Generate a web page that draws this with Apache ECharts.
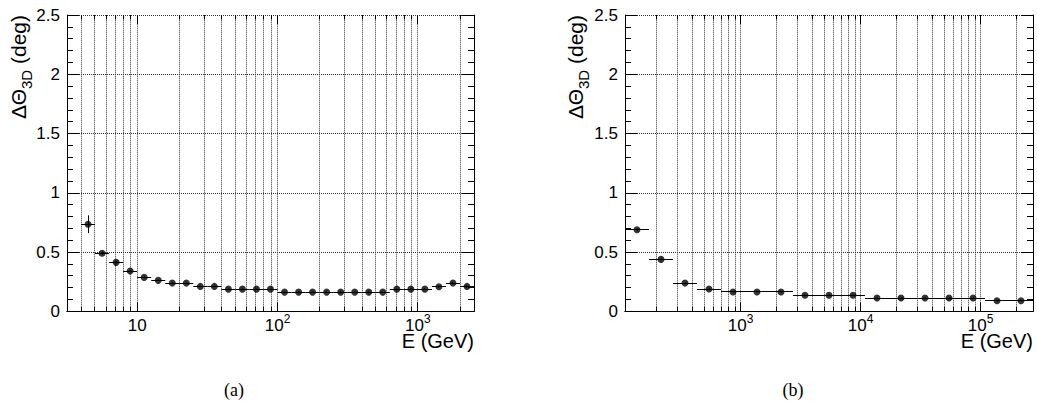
<!DOCTYPE html>
<html><head><meta charset="utf-8">
<script src="https://cdn.jsdelivr.net/npm/echarts@6/dist/echarts.min.js"></script>
<style>html,body{margin:0;padding:0;background:#fff}#c{width:1037px;height:403px}</style>
</head><body><div id="c"></div>
<script>
// ---------- Panel (a) data ----------
const energyA = [4.467, 5.623, 7.079, 8.913, 11.22, 14.13, 17.78, 22.39, 28.18, 35.48, 44.67, 56.23, 70.79, 89.13,
  112.2, 141.3, 177.8, 223.9, 281.8, 354.8, 446.7, 562.3, 707.9, 891.3, 1122, 1413, 1778, 2239];
const binEdgesA = [3.981, 5.012, 6.310, 7.943, 10.0, 12.59, 15.85, 19.95, 25.12, 31.62, 39.81, 50.12, 63.10, 79.43,
  100.0, 125.9, 158.5, 199.5, 251.2, 316.2, 398.1, 501.2, 631.0, 794.3, 1000, 1259, 1585, 1995, 2512];
const thetaA = [0.735, 0.49, 0.413, 0.34, 0.286, 0.261, 0.238, 0.238, 0.21, 0.21, 0.187, 0.187, 0.187, 0.187,
  0.162, 0.162, 0.162, 0.162, 0.162, 0.162, 0.162, 0.162, 0.187, 0.187, 0.187, 0.207, 0.238, 0.21];
const errA = [0.075, 0.012, 0.01, 0.008, 0.006, 0.005, 0.005, 0.005, 0.005, 0.005, 0.005, 0.005, 0.005, 0.005,
  0.005, 0.005, 0.005, 0.005, 0.005, 0.005, 0.005, 0.005, 0.005, 0.005, 0.006, 0.008, 0.01, 0.012];
const xRangeA = [3.162, 2512];

// ---------- Panel (b) data ----------
const energyB = [137.1, 217.3, 344.4, 545.8, 865.0, 1371, 2173, 3443, 5458, 8650, 13710, 21730, 34440, 54580,
  86500, 137100, 217300];
const binEdgesB = [108.9, 172.6, 273.5, 433.5, 687.1, 1089, 1726, 2735, 4335, 6871, 10890, 17260, 27350, 43350,
  68710, 108900, 172600, 273500];
const thetaB = [0.688, 0.438, 0.238, 0.188, 0.163, 0.163, 0.163, 0.135, 0.135, 0.135, 0.112, 0.112, 0.112, 0.112,
  0.112, 0.089, 0.089];
const errB = [0.012, 0.008, 0.006, 0.005, 0.005, 0.005, 0.005, 0.005, 0.005, 0.005, 0.005, 0.005, 0.005, 0.005,
  0.005, 0.006, 0.006];
const xRangeB = [108.9, 273500];

const yRange = [0, 2.5];
const yTitle = ['\u0394\u0398', '3D', ' (deg)'];
const xTitle = 'E (GeV)';
const captions = ['(a)', '(b)'];

// ---------- helpers ----------
const FONT = 'Liberation Sans, Arial, Helvetica, sans-serif';
function logTicks(r) {
  const out = [];
  for (let d = Math.floor(Math.log10(r[0])); d <= Math.ceil(Math.log10(r[1])); d++) {
    for (let m = 1; m <= 9; m++) {
      const v = m * Math.pow(10, d);
      if (v > r[0] * 1.0001 && v < r[1] * 0.9999) out.push([v, m === 1 ? 1 : 0]);
    }
  }
  return out;
}
function errData(E, edges, T, err) {
  return E.map((e, i) => [e, T[i], edges[i], edges[i + 1], err[i]]);
}
const crisp = v => Math.round(v - 0.5) + 0.5;

function gridSeries(xi, yi, range) {
  return {
    type: 'custom', xAxisIndex: xi, yAxisIndex: yi, silent: true, z: 1,
    data: logTicks(range),
    encode: { x: 0 },
    renderItem(params, api) {
      const v = api.value(0), major = api.value(1);
      const pb = api.coord([v, yRange[0]]), pt = api.coord([v, yRange[1]]);
      const x = crisp(pb[0]);
      const len = major ? 9 : 4.5;
      return { type: 'group', children: [
        { type: 'line', shape: { x1: x, y1: pb[1], x2: x, y2: pt[1] },
          style: { stroke: '#333', lineWidth: 1, lineDash: [1, 1] } },
        { type: 'line', shape: { x1: x, y1: pb[1], x2: x, y2: pb[1] - len },
          style: { stroke: '#000', lineWidth: 1 } },
        { type: 'line', shape: { x1: x, y1: pt[1], x2: x, y2: pt[1] + len },
          style: { stroke: '#000', lineWidth: 1 } }
      ] };
    }
  };
}
function errSeries(xi, yi, data) {
  return {
    type: 'custom', xAxisIndex: xi, yAxisIndex: yi, silent: true, z: 5,
    data, encode: { x: 0, y: 1 },
    renderItem(params, api) {
      const x = api.value(0), y = api.value(1), lo = api.value(2), hi = api.value(3), e = api.value(4);
      const pl = api.coord([lo, y]), ph = api.coord([hi, y]);
      const pt = api.coord([x, y + e]), pb = api.coord([x, y - e]);
      const yy = crisp(pl[1]), xx = crisp(pt[0]);
      return { type: 'group', children: [
        { type: 'line', shape: { x1: pl[0], y1: yy, x2: ph[0], y2: yy }, style: { stroke: '#000', lineWidth: 1 } },
        { type: 'line', shape: { x1: xx, y1: pt[1], x2: xx, y2: pb[1] }, style: { stroke: '#000', lineWidth: 1 } }
      ] };
    }
  };
}
function pointSeries(xi, yi, E, T) {
  return {
    type: 'scatter', xAxisIndex: xi, yAxisIndex: yi, z: 6, silent: true,
    symbol: 'circle', symbolSize: 7, itemStyle: { color: '#000' },
    data: E.map((e, i) => [e, T[i]])
  };
}
function xLabelFmt(v) {
  const l = Math.log10(v), n = Math.round(l);
  if (Math.abs(l - n) > 1e-6) return '';
  return n === 1 ? '{b|10}' : '{b|10}{s|' + n + '}';
}
const axisLineStyle = { show: true, lineStyle: { color: '#000', width: 1 } };
function xAxes(gi, range) {
  const common = { gridIndex: gi, type: 'log', logBase: 10, min: range[0], max: range[1],
    axisLine: axisLineStyle, axisTick: { show: false }, splitLine: { show: false }, minorTick: { show: false } };
  return [
    Object.assign({}, common, { position: 'bottom',
      axisLabel: { show: true, margin: 2, color: '#000', formatter: xLabelFmt,
        rich: { b: { fontFamily: FONT, fontSize: 17, lineHeight: 21, verticalAlign: 'bottom', color: '#000' },
                s: { fontFamily: FONT, fontSize: 12, lineHeight: 12, verticalAlign: 'top', color: '#000' } } } }),
    Object.assign({}, common, { position: 'top', axisLabel: { show: false } })
  ];
}
function yAxes(gi) {
  const common = { gridIndex: gi, type: 'value', min: yRange[0], max: yRange[1], interval: 0.5,
    axisLine: axisLineStyle,
    axisTick: { show: true, inside: true, length: 12, lineStyle: { color: '#000', width: 1 } },
    minorTick: { show: true, splitNumber: 5, length: 6, lineStyle: { color: '#000', width: 1 } } };
  return [
    Object.assign({}, common, { position: 'left',
      axisLabel: { show: true, margin: 7, color: '#000', fontFamily: FONT, fontSize: 17, formatter: v => String(v) },
      splitLine: { show: true, lineStyle: { color: '#333', width: 1, type: [1, 1] } } }),
    Object.assign({}, common, { position: 'right', axisLabel: { show: false }, splitLine: { show: false } })
  ];
}
function yTitleGraphic(x) {
  return { type: 'text', x: x, y: 15, rotation: Math.PI / 2, silent: true,
    style: { text: '{m|' + yTitle[0] + '}{s|' + yTitle[1] + '}{m|' + yTitle[2] + '}', align: 'right', verticalAlign: 'middle',
      rich: { m: { fontFamily: FONT, fontSize: 21, lineHeight: 26, verticalAlign: 'top', fill: '#000' },
              s: { fontFamily: FONT, fontSize: 15, lineHeight: 15, verticalAlign: 'bottom', fill: '#000' } } } };
}
function textG(x, y, t, font, size, align) {
  return { type: 'text', x, y, silent: true,
    style: { text: t, fontFamily: font, fontSize: size, fill: '#000', align, verticalAlign: 'top' } };
}

const chart = echarts.init(document.getElementById('c'), null, { renderer: 'svg', width: 1037, height: 403 });
chart.setOption({
  animation: false,
  backgroundColor: '#fff',
  grid: [
    { left: 67, top: 15, width: 407, height: 296.3, outerBoundsMode: 'none', containLabel: false },
    { left: 625, top: 15, width: 408, height: 296.3, outerBoundsMode: 'none', containLabel: false }
  ],
  xAxis: [...xAxes(0, xRangeA), ...xAxes(1, xRangeB)],
  yAxis: [...yAxes(0), ...yAxes(1)],
  series: [
    gridSeries(0, 0, xRangeA),
    errSeries(0, 0, errData(energyA, binEdgesA, thetaA, errA)),
    pointSeries(0, 0, energyA, thetaA),
    gridSeries(2, 2, xRangeB),
    errSeries(2, 2, errData(energyB, binEdgesB, thetaB, errB)),
    pointSeries(2, 2, energyB, thetaB)
  ],
  graphic: [
    yTitleGraphic(21),
    yTitleGraphic(578),
    textG(474, 331, xTitle, FONT, 20, 'right'),
    textG(1033, 331, xTitle, FONT, 20, 'right'),
    textG(234, 381, captions[0], 'Liberation Serif, Times New Roman, serif', 18, 'center'),
    textG(793, 381, captions[1], 'Liberation Serif, Times New Roman, serif', 18, 'center')
  ]
});
</script></body></html>
